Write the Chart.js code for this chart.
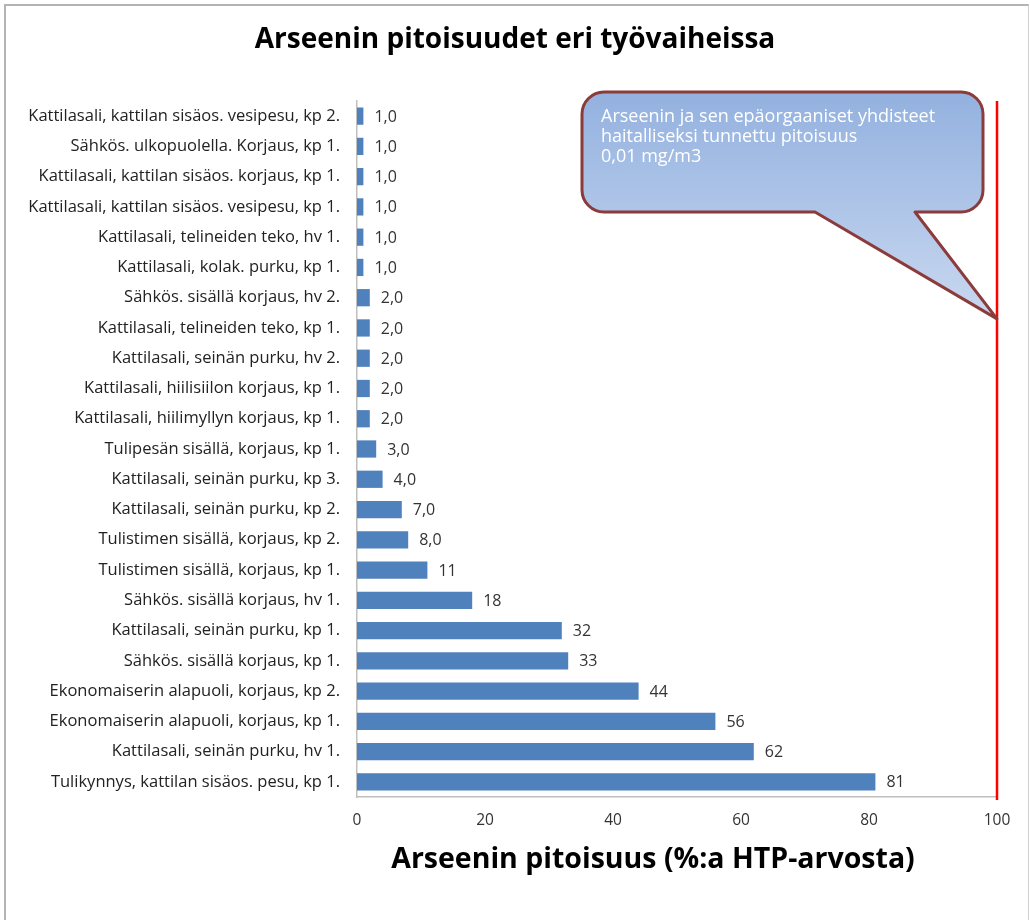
<!DOCTYPE html>
<html>
<head>
<meta charset="utf-8">
<script src="https://cdn.jsdelivr.net/npm/chart.js@4/dist/chart.umd.min.js"></script>
<style>
  body { margin: 0; background: #fff; }
  #wrap { position: relative; width: 1030px; height: 920px; }
  #frame { position: absolute; left: 4px; top: 4px; width: 1022px; height: 920px;
           border-left: 2px solid #b4b4b4; border-top: 2px solid #b4b4b4; border-right: 1px solid #d0d0d0; }
  canvas { position: absolute; left: 0; top: 0; }
</style>
</head>
<body>
<div id="wrap">
  <div id="frame"></div>
  <canvas id="canvas" width="1030" height="920"></canvas>
</div>
<script>
let labels = [
  'Kattilasali, kattilan sisäos. vesipesu, kp 2.',
  'Sähkös. ulkopuolella. Korjaus, kp 1.',
  'Kattilasali, kattilan sisäos. korjaus, kp 1.',
  'Kattilasali, kattilan sisäos. vesipesu, kp 1.',
  'Kattilasali, telineiden teko, hv 1.',
  'Kattilasali, kolak. purku, kp 1.',
  'Sähkös. sisällä korjaus, hv 2.',
  'Kattilasali, telineiden teko, kp 1.',
  'Kattilasali, seinän purku, hv 2.',
  'Kattilasali, hiilisiilon korjaus, kp 1.',
  'Kattilasali, hiilimyllyn korjaus, kp 1.',
  'Tulipesän sisällä, korjaus, kp 1.',
  'Kattilasali, seinän purku, kp 3.',
  'Kattilasali, seinän purku, kp 2.',
  'Tulistimen sisällä, korjaus, kp 2.',
  'Tulistimen sisällä, korjaus, kp 1.',
  'Sähkös. sisällä korjaus, hv 1.',
  'Kattilasali, seinän purku, kp 1.',
  'Sähkös. sisällä korjaus, kp 1.',
  'Ekonomaiserin alapuoli, korjaus, kp 2.',
  'Ekonomaiserin alapuoli, korjaus, kp 1.',
  'Kattilasali, seinän purku, hv 1.',
  'Tulikynnys, kattilan sisäos. pesu, kp 1.'
];
let data = [ 1, 1, 1, 1, 1, 1, 2, 2, 2, 2, 2, 3, 4, 7, 8, 11, 18, 32, 33, 44, 56, 62, 81 ];
let limit = 100;
let title = 'Arseenin pitoisuudet eri työvaiheissa';
let axisTitle = 'Arseenin pitoisuus (%:a HTP-arvosta)';
let calloutLines = [
  'Arseenin ja sen epäorgaaniset yhdisteet',
  'haitalliseksi tunnettu pitoisuus',
  '0,01 mg/m3'
];

function fmt(v) {
  return v < 10 ? v.toFixed(1).replace('.', ',') : String(v);
}

// value labels next to the bars
let valueLabels = {
  id: 'valueLabels',
  afterDatasetsDraw(chart) {
    let ctx = chart.ctx;
    let meta = chart.getDatasetMeta(0);
    ctx.save();
    ctx.font = '16px "Open Sans"';
    ctx.fillStyle = '#333';
    ctx.textBaseline = 'middle';
    meta.data.forEach((bar, i) => {
      ctx.fillText(fmt(data[i]), bar.x + 11, bar.y + 1);
    });
    ctx.restore();
  }
};

// red limit line, speech bubble, titles
let limitLine = {
  id: 'limitLine',
  afterDraw(chart) {
    let ctx = chart.ctx;
    let area = chart.chartArea;
    let x = chart.scales.x.getPixelForValue(limit);
    ctx.save();
    ctx.strokeStyle = '#ff0000';
    ctx.lineWidth = 2.5;
    ctx.beginPath();
    ctx.moveTo(x, area.top);
    ctx.lineTo(x, area.bottom + 3);
    ctx.stroke();

    // callout
    let tipY = chart.scales.y.getPixelForValue(6.7);
    let l = x - 415, r = x - 14, t = area.top - 9, b = area.top + 111, rad = 22;
    let grad = ctx.createLinearGradient(0, t, 0, tipY);
    grad.addColorStop(0, '#93b1df');
    grad.addColorStop(1, '#c9d8f0');
    ctx.beginPath();
    ctx.moveTo(l + rad, t);
    ctx.lineTo(r - rad, t);
    ctx.arcTo(r, t, r, t + rad, rad);
    ctx.lineTo(r, b - rad);
    ctx.arcTo(r, b, r - rad, b, rad);
    ctx.lineTo(x - 82, b);
    ctx.lineTo(x, tipY);
    ctx.lineTo(x - 182, b);
    ctx.lineTo(l + rad, b);
    ctx.arcTo(l, b, l, b - rad, rad);
    ctx.lineTo(l, t + rad);
    ctx.arcTo(l, t, l + rad, t, rad);
    ctx.closePath();
    ctx.fillStyle = grad;
    ctx.fill();
    ctx.lineWidth = 3;
    ctx.strokeStyle = '#8c3b3b';
    ctx.lineJoin = 'round';
    ctx.stroke();

    ctx.fillStyle = '#fff';
    ctx.font = '18px "Open Sans"';
    ctx.textBaseline = 'middle';
    calloutLines.forEach((s, i) => ctx.fillText(s, l + 19, t + 25 + i * 20));

    // chart title, centred on the whole picture
    ctx.fillStyle = '#000';
    ctx.textAlign = 'center';
    ctx.font = 'bold 28px "Open Sans"';
    ctx.fillText(title, chart.width / 2, 40);

    // axis title, sits a bit left of the plot centre like the original
    ctx.font = 'bold 28.5px "Open Sans"';
    ctx.fillText(axisTitle, (area.left + area.right) / 2 - 24, area.bottom + 63);
    ctx.restore();
  }
};

let options = {
  type: 'bar',
  data: {
    labels: labels,
    datasets: [{
      data: data,
      backgroundColor: '#4f81bd',
      borderWidth: 0,
      categoryPercentage: 0.57,
      barPercentage: 1.0
    }]
  },
  options: {
    indexAxis: 'y',
    responsive: false,
    animation: false,
    layout: { padding: { top: 101, right: 33, bottom: 0, left: 0 } },
    plugins: {
      legend: { display: false },
      tooltip: { enabled: false },
      title: { display: false }
    },
    scales: {
      x: {
        min: 0,
        max: 100,
        ticks: { stepSize: 20, color: '#333', font: { family: 'Open Sans', size: 15.5 }, padding: 6 },
        grid: { display: false },
        border: { display: true, color: '#bfbfbf', width: 1.5 },
        afterFit(s) { s.height = 123; }
      },
      y: {
        ticks: { color: '#222', font: { family: 'Open Sans', size: 16.5 }, padding: 9 },
        grid: { display: false },
        border: { display: true, color: '#bfbfbf', width: 1.5 },
        afterFit(s) { s.width = 357; }
      }
    }
  },
  plugins: [valueLabels, limitLine]
};

let chart = new Chart(document.getElementById('canvas'), options);
</script>
</body>
</html>
